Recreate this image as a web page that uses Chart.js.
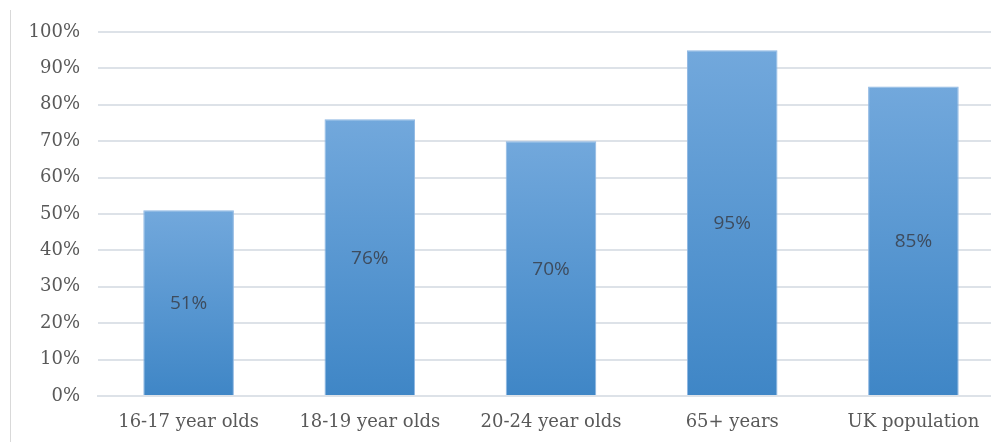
<!DOCTYPE html>
<html>
<head>
<meta charset="utf-8">
<script src="https://cdn.jsdelivr.net/npm/chart.js@4"></script>
<style>
  html, body { margin: 0; padding: 0; background: #fff; overflow: hidden; }
  #frame { position: absolute; left: 10px; top: 10px; width: 1px; height: 440px; background: #d9d9d9; }
  #wrap { position: absolute; left: 0; top: 0; width: 1004px; height: 442px; }
</style>
</head>
<body>
<div id="wrap"><canvas id="bar-chart"></canvas></div>
<div id="frame"></div>
<script>
    // Chart data
    const groups = ['16-17 year olds', '18-19 year olds', '20-24 year olds', '65+ years', 'UK population'];
    const shares = [0.51, 0.76, 0.70, 0.95, 0.85];
    const shareLabels = ['51%', '76%', '70%', '95%', '85%'];

    // per-bar gradient, lighter at the top
    function barGradient(context) {
        const chart = context.chart;
        const { ctx, chartArea } = chart;
        if (!chartArea || context.dataIndex === undefined) return '#5b9bd5';
        const y = chart.scales.y;
        const top = y.getPixelForValue(context.raw);
        const bottom = y.getPixelForValue(0);
        const g = ctx.createLinearGradient(0, top, 0, bottom);
        g.addColorStop(0, '#72a8dc');
        g.addColorStop(1, '#3f86c6');
        return g;
    }

    // value labels in the middle of each bar
    const centerLabels = {
        id: 'centerLabels',
        afterDatasetsDraw(chart) {
            const ctx = chart.ctx;
            const meta = chart.getDatasetMeta(0);
            ctx.save();
            ctx.font = '19px "Open Sans", sans-serif';
            ctx.fillStyle = '#3e4c5e';
            ctx.textAlign = 'center';
            ctx.textBaseline = 'middle';
            meta.data.forEach((bar, i) => {
                ctx.fillText(shareLabels[i], bar.x, (bar.y + bar.base) / 2 + 1);
            });
            ctx.restore();
        }
    };

    const ctxBar = document.getElementById('bar-chart').getContext('2d');
    new Chart(ctxBar, {
        type: 'bar',
        data: {
            labels: groups,
            datasets: [{
                data: shares,
                backgroundColor: barGradient,
                borderColor: '#8db6e2',
                borderWidth: 1,
                barPercentage: 0.5,
                categoryPercentage: 1
            }]
        },
        options: {
            responsive: true,
            maintainAspectRatio: false,
            animation: false,
            layout: { padding: { top: 32, right: 0, left: 0, bottom: 0 } },
            scales: {
                x: {
                    afterFit: (scale) => { scale.height = 46; },
                    grid: { display: false, drawTicks: false },
                    border: { color: '#dde2e8', width: 2 },
                    ticks: {
                        color: '#595959',
                        padding: 16,
                        font: { family: '"DejaVu Serif", serif', size: 18 }
                    }
                },
                y: {
                    min: 0,
                    max: 1,
                    afterFit: (scale) => { scale.width = 98; },
                    grid: { color: '#dde2e8', lineWidth: 2, drawTicks: false },
                    border: { display: false },
                    ticks: {
                        stepSize: 0.1,
                        padding: 18,
                        color: '#595959',
                        font: { family: '"DejaVu Serif", serif', size: 18 },
                        callback: (v) => Math.round(v * 100) + '%'
                    }
                }
            },
            plugins: {
                legend: { display: false },
                tooltip: { enabled: false }
            }
        },
        plugins: [centerLabels]
    });
</script>
</body>
</html>
